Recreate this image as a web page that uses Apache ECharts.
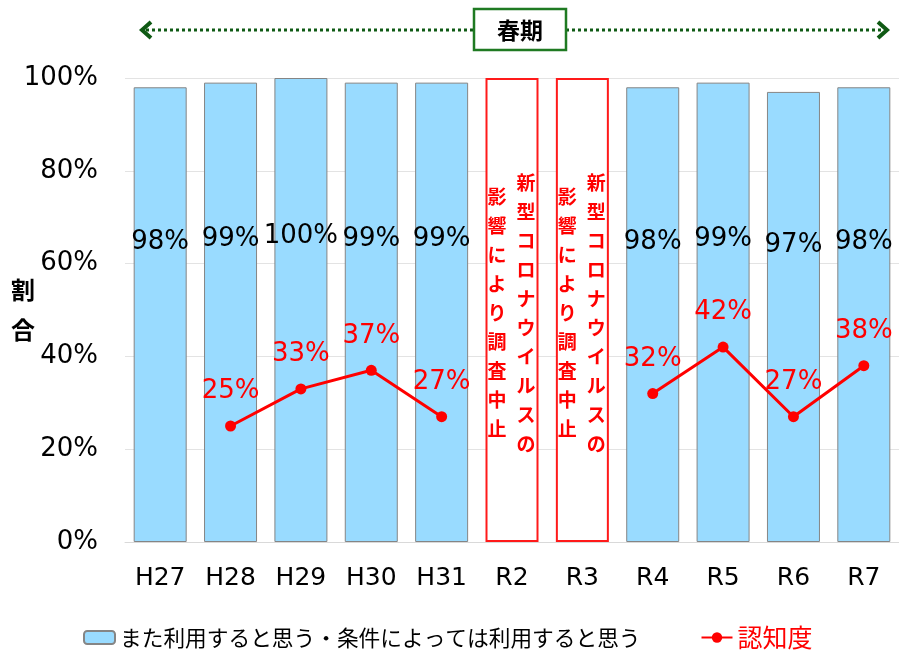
<!DOCTYPE html>
<html><head><meta charset="utf-8">
<script src="https://cdn.jsdelivr.net/npm/echarts@6/dist/echarts.min.js"></script>
<style>html,body{margin:0;padding:0;background:#fff}#chart{width:899px;height:657px}</style>
</head><body><div id="chart"></div>
<script>
// Survey years (Heisei / Reiwa)
const categories = ['H27', 'H28', 'H29', 'H30', 'H31', 'R2', 'R3', 'R4', 'R5', 'R6', 'R7'];
// "Would use again" share (%), no survey in R2/R3
const intentValues = [98, 99, 100, 99, 99, null, null, 98, 99, 97, 98];
// Awareness (%)
const awarenessValues = [null, 25, 33, 37, 27, null, null, 32, 42, 27, 38];
// Years where the survey was cancelled (full-height marker)
const suspendedValues = [null, null, null, null, null, 100, 100, null, null, null, null];
const yTicks = [0, 20, 40, 60, 80, 100];

const intentName = 'また利用すると思う・条件によっては利用すると思う';
const awarenessName = '認知度';
const suspendedNoteRight = '新型コロナウイルスの';
const suspendedNoteLeft = '影響により調査中止';
const periodLabel = '春期';
const yAxisTitle = '割合';

const NUM_FONT = '"DejaVu Sans", Verdana, sans-serif';
const JP_FONT = '"Noto Sans CJK JP", "Noto Sans", sans-serif';

const vertical = s => s.split('').join('\n');

const chart = echarts.init(document.getElementById('chart'), null, { renderer: 'canvas' });

const noteLabel = (text, dx) => ({
  show: true,
  position: 'inside',
  offset: [dx, 3],
  formatter: () => vertical(text),
  color: '#ff0000',
  fontFamily: JP_FONT,
  fontWeight: 'bold',
  fontSize: 19,
  lineHeight: 29,
  align: 'center',
  verticalAlign: 'middle'
});

chart.setOption({
  animation: false,
  backgroundColor: '#ffffff',
  grid: { left: 125, right: 0, top: 78, bottom: 115, containLabel: false, outerBoundsMode: 'none' },
  legend: {
    left: 78,
    top: 620,
    itemWidth: 31,
    itemHeight: 13,
    itemGap: 60,
    data: [
      { name: intentName, textStyle: { color: '#000000', fontSize: 21.7 } },
      { name: awarenessName, textStyle: { color: '#ff0000', fontSize: 25 } }
    ],
    textStyle: { fontFamily: JP_FONT, fontSize: 21.7 }
  },
  xAxis: {
    type: 'category',
    data: categories,
    axisTick: { show: false },
    axisLine: { show: true, lineStyle: { color: '#d9d9d9', width: 1 } },
    axisLabel: { color: '#000000', fontFamily: NUM_FONT, fontSize: 25, margin: 24 }
  },
  yAxis: {
    type: 'value',
    min: yTicks[0],
    max: yTicks[yTicks.length - 1],
    interval: yTicks[1] - yTicks[0],
    name: vertical(yAxisTitle),
    nameLocation: 'middle',
    nameRotate: 0,
    nameGap: 90,
    nameMoveOverlap: false,
    nameTextStyle: { color: '#000000', fontFamily: JP_FONT, fontWeight: 'bold', fontSize: 24, lineHeight: 40, padding: [14, 0, 0, 0] },
    axisLine: { show: false },
    axisTick: { show: false },
    splitLine: { lineStyle: { color: '#e3e3e3', width: 1 } },
    axisLabel: { color: '#000000', fontFamily: NUM_FONT, fontSize: 26, margin: 27, formatter: '{value}%' }
  },
  series: [
    {
      name: intentName,
      type: 'bar',
      data: intentValues,
      barWidth: 53,
      barGap: '-100%',
      itemStyle: { color: '#99dbff', borderColor: '#858585', borderWidth: 1 },
      label: {
        show: true,
        position: ['50%', '34%'],
        align: 'center',
        verticalAlign: 'middle',
        formatter: p => p.value + '%',
        color: '#000000',
        fontFamily: NUM_FONT,
        fontSize: 26
      },
      z: 2
    },
    {
      name: 'suspendedBox',
      type: 'bar',
      data: suspendedValues,
      barWidth: 53,
      barGap: '-100%',
      itemStyle: { color: '#ffffff', borderColor: '#ff1a1a', borderWidth: 2 },
      label: noteLabel(suspendedNoteRight, 14),
      z: 2
    },
    {
      name: 'suspendedNote',
      type: 'bar',
      data: suspendedValues,
      barWidth: 53,
      barGap: '-100%',
      itemStyle: { color: 'rgba(0,0,0,0)' },
      label: noteLabel(suspendedNoteLeft, -15),
      z: 3
    },
    {
      name: awarenessName,
      type: 'line',
      data: awarenessValues,
      connectNulls: false,
      symbol: 'circle',
      symbolSize: 11,
      lineStyle: { color: '#ff0000', width: 3 },
      itemStyle: { color: '#ff0000' },
      label: {
        show: true,
        position: 'top',
        distance: 16,
        formatter: p => p.value + '%',
        color: '#ff0000',
        fontFamily: NUM_FONT,
        fontSize: 26
      },
      z: 5
    }
  ],
  graphic: [
    // dotted period span with arrowheads
    { type: 'line', shape: { x1: 146, y1: 30, x2: 883, y2: 30 }, style: { stroke: '#0f5a14', lineWidth: 3, lineDash: [3, 3] }, z: 10 },
    { type: 'polyline', shape: { points: [[151, 22], [142, 30], [151, 38]] }, style: { stroke: '#0f5a14', lineWidth: 4, fill: null }, z: 10 },
    { type: 'polyline', shape: { points: [[878, 22], [887, 30], [878, 38]] }, style: { stroke: '#0f5a14', lineWidth: 4, fill: null }, z: 10 },
    { type: 'rect', shape: { x: 474, y: 9, width: 92, height: 41 }, style: { fill: '#ffffff', stroke: '#1f7a22', lineWidth: 2.5 }, z: 11 },
    { type: 'text', x: 520, y: 30, style: { text: periodLabel, fill: '#000000', font: 'bold 23px ' + JP_FONT, align: 'center', verticalAlign: 'middle' }, z: 12 }
  ]
});
</script>
</body></html>
